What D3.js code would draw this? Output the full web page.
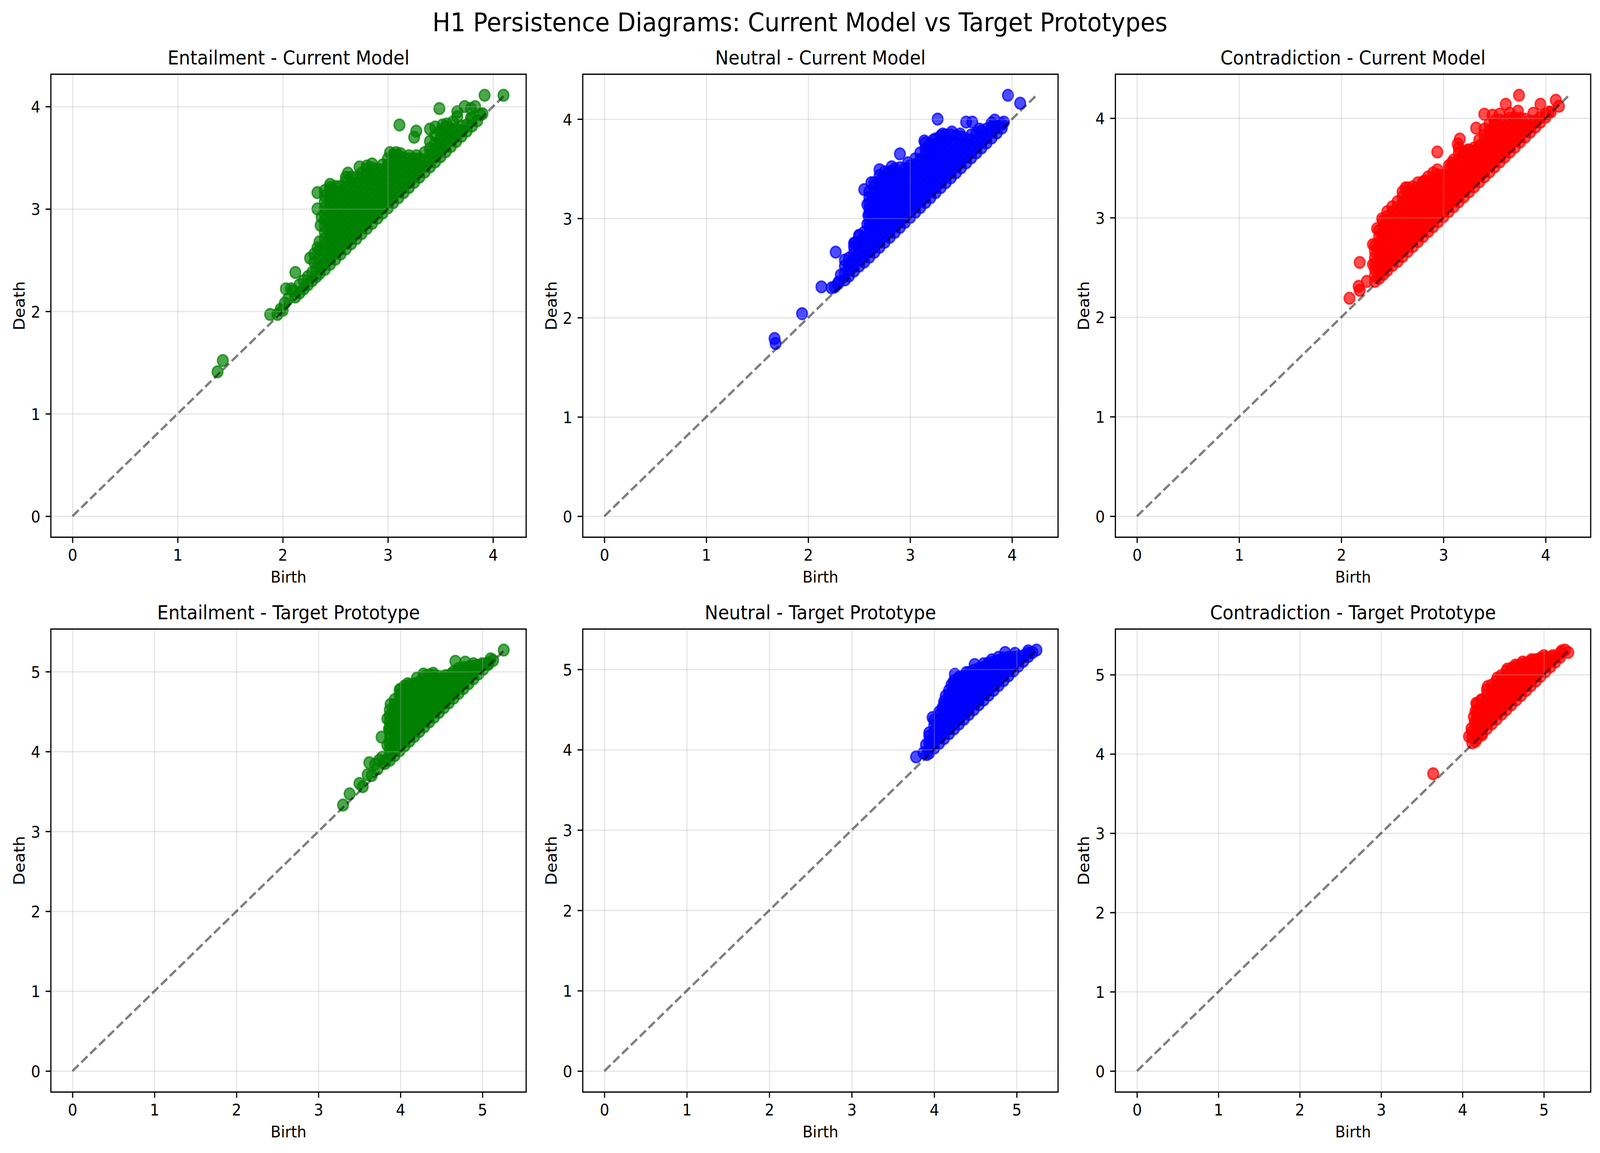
<!DOCTYPE html>
<html><head><meta charset="utf-8">
<script src="https://cdn.jsdelivr.net/npm/d3@7"></script>
<style>html,body{margin:0;padding:0;background:#fff;overflow:hidden;width:100%;height:100%}svg{display:block}</style>
</head><body>
<script>
// ---------- DATA (birth, death) ----------
const currentTicks = [0, 1, 2, 3, 4];
const targetTicks = [0, 1, 2, 3, 4, 5];

// Entailment - Current Model: columns [birth, [deaths]] + extra points
const entCurrentCols = [
[2.40,[2.41,2.47,2.53,2.59,2.65,2.71,2.77,2.83,2.89,2.95,3.01,3.07,3.13,3.18]],
[2.45,[2.46,2.52,2.58,2.64,2.70,2.76,2.82,2.88,2.94,3.00,3.06,3.12,3.18,3.21]],
[2.50,[2.51,2.57,2.63,2.69,2.75,2.81,2.87,2.93,2.99,3.05,3.11,3.17,3.22]],
[2.55,[2.56,2.62,2.68,2.74,2.80,2.86,2.92,2.98,3.04,3.10,3.16,3.22]],
[2.60,[2.61,2.67,2.73,2.79,2.85,2.91,2.97,3.03,3.09,3.15,3.21,3.27,3.31]],
[2.65,[2.66,2.72,2.78,2.84,2.90,2.96,3.02,3.08,3.14,3.20,3.26,3.31]],
[2.70,[2.71,2.77,2.83,2.89,2.95,3.01,3.07,3.13,3.19,3.25,3.31]],
[2.75,[2.76,2.82,2.88,2.94,3.00,3.06,3.12,3.18,3.24,3.30,3.35]],
[2.80,[2.81,2.87,2.93,2.99,3.05,3.11,3.17,3.23,3.29,3.35,3.39]],
[2.85,[2.86,2.92,2.98,3.04,3.10,3.16,3.22,3.28,3.34,3.40]],
[2.90,[2.91,2.97,3.03,3.09,3.15,3.21,3.27,3.33,3.39]],
[2.95,[2.96,3.02,3.08,3.14,3.20,3.26,3.32,3.38,3.43]],
[3.00,[3.01,3.07,3.13,3.19,3.25,3.31,3.37,3.43,3.49]],
[3.05,[3.06,3.12,3.18,3.24,3.30,3.36,3.42,3.48,3.53]],
[3.10,[3.11,3.17,3.23,3.29,3.35,3.41,3.47,3.52]],
[3.15,[3.16,3.22,3.28,3.34,3.40,3.46,3.50]],
[3.20,[3.21,3.27,3.33,3.39,3.45,3.49]],
[3.25,[3.26,3.32,3.38,3.44,3.49]],
[3.30,[3.31,3.37,3.43,3.49]],
[3.35,[3.36,3.42,3.48,3.55]],
[3.40,[3.41,3.47,3.53,3.59,3.66]],
[3.45,[3.46,3.52,3.58,3.64,3.72]],
[3.50,[3.51,3.57,3.63,3.69,3.76]],
[3.55,[3.56,3.62,3.68,3.74,3.80]],
[3.60,[3.61,3.67,3.73,3.78]],
[3.65,[3.66,3.72,3.78]],
[3.70,[3.71,3.76,3.81]],
[3.75,[3.76,3.82]],
[3.80,[3.81,3.88]],
[3.85,[3.86]]
];
const entCurrentExtra = [[2.35,2.37],[2.35,2.44],[2.35,2.52],[2.35,2.60],[2.35,2.68],[2.33,2.62],[2.30,2.48],[2.30,2.56],[2.33,3.00],[2.36,2.84],[2.33,3.16],[2.37,2.92],[2.32,2.34],[2.32,2.42],[2.28,2.30],[2.28,2.38],[2.26,2.52],[2.24,2.26],[2.24,2.34],[2.20,2.22],[2.20,2.30],[2.16,2.18],[2.16,2.26],[2.12,2.14],[2.12,2.38],[2.10,2.20],[2.08,2.22],[2.05,2.12],[2.03,2.22],[2.02,2.08],[2.00,2.01],[1.98,2.02],[1.95,1.97],[1.88,1.97],[1.43,1.52],[1.38,1.41],[3.11,3.82],[3.27,3.76],[3.25,3.70],[3.49,3.98],[3.73,4.00],[3.79,3.98],[3.83,4.00],[3.92,4.11],[4.10,4.11],[3.90,3.93],[3.66,3.95],[3.66,3.90],[3.62,3.85],[3.56,3.83],[3.52,3.82],[3.45,3.80],[3.40,3.78],[3.02,3.55],[3.08,3.55],[3.12,3.54],[3.20,3.52],[3.27,3.52],[2.73,3.41],[2.85,3.44],[2.80,3.42],[2.62,3.35],[2.45,3.24],[3.88,3.92],[3.79,3.89]];

// Neutral - Current Model
const neuCurrentCols = [
[2.36,[2.38,2.45,2.52,2.58]],
[2.40,[2.42,2.48,2.54,2.60]],
[2.45,[2.47,2.53,2.59,2.65,2.71,2.75]],
[2.50,[2.52,2.58,2.64,2.70,2.76,2.82]],
[2.55,[2.56,2.62,2.68,2.74,2.80,2.86]],
[2.60,[2.61,2.67,2.73,2.79,2.85,2.91,2.97,3.03,3.09,3.15,3.21,3.27]],
[2.65,[2.66,2.72,2.78,2.84,2.90,2.96,3.02,3.08,3.14,3.20,3.26,3.32,3.36]],
[2.70,[2.71,2.77,2.83,2.89,2.95,3.01,3.07,3.13,3.19,3.25,3.31,3.37,3.43]],
[2.75,[2.76,2.82,2.88,2.94,3.00,3.06,3.12,3.18,3.24,3.30,3.36,3.42,3.47]],
[2.80,[2.81,2.87,2.93,2.99,3.05,3.11,3.17,3.23,3.29,3.35,3.41,3.47]],
[2.85,[2.86,2.92,2.98,3.04,3.10,3.16,3.22,3.28,3.34,3.40,3.46,3.50]],
[2.90,[2.91,2.97,3.03,3.09,3.15,3.21,3.27,3.33,3.39,3.45,3.51]],
[2.95,[2.96,3.02,3.08,3.14,3.20,3.26,3.32,3.38,3.44,3.50]],
[3.00,[3.01,3.07,3.13,3.19,3.25,3.31,3.37,3.43,3.49,3.53]],
[3.05,[3.06,3.12,3.18,3.24,3.30,3.36,3.42,3.48,3.54,3.60]],
[3.10,[3.11,3.17,3.23,3.29,3.35,3.41,3.47,3.53,3.59,3.66]],
[3.15,[3.16,3.22,3.28,3.34,3.40,3.46,3.52,3.58,3.64,3.70,3.76]],
[3.20,[3.21,3.27,3.33,3.39,3.45,3.51,3.57,3.63,3.69,3.75]],
[3.25,[3.26,3.32,3.38,3.44,3.50,3.56,3.62,3.68,3.74,3.80]],
[3.30,[3.31,3.37,3.43,3.49,3.55,3.61,3.67,3.73,3.79,3.83]],
[3.35,[3.36,3.42,3.48,3.54,3.60,3.66,3.72,3.78,3.84]],
[3.40,[3.41,3.47,3.53,3.59,3.65,3.71,3.77,3.84]],
[3.45,[3.46,3.52,3.58,3.64,3.70,3.76,3.83]],
[3.50,[3.51,3.57,3.63,3.69,3.75,3.82]],
[3.55,[3.56,3.62,3.68,3.74,3.80]],
[3.60,[3.61,3.67,3.73,3.79,3.84]],
[3.65,[3.66,3.72,3.78,3.86]],
[3.70,[3.71,3.77,3.83,3.88]],
[3.75,[3.76,3.82,3.90]],
[3.80,[3.81,3.87,3.92]],
[3.85,[3.86,3.92]],
[3.90,[3.91,3.95]]
];
const neuCurrentExtra = [[2.55,3.29],[2.58,3.14],[2.59,3.03],[2.58,2.94],[2.50,2.83],[2.46,2.75],[2.27,2.66],[2.32,2.43],[2.30,2.36],[2.29,2.34],[2.23,2.30],[2.13,2.31],[2.26,2.31],[1.94,2.04],[1.67,1.79],[1.68,1.74],[3.96,4.24],[4.08,4.16],[3.27,4.00],[3.55,3.97],[3.61,3.97],[3.83,3.99],[3.92,3.97],[3.80,3.96],[2.90,3.65],[2.70,3.49],[2.82,3.52],[2.98,3.56],[3.14,3.78],[3.23,3.79],[3.32,3.85],[3.41,3.87],[3.49,3.85],[3.68,3.90],[2.62,3.36]];

// Contradiction - Current Model
const conCurrentCols = [
[2.33,[2.36,2.42,2.48,2.54,2.60,2.66,2.72]],
[2.37,[2.39,2.45,2.51,2.57,2.63,2.69,2.75,2.81,2.87]],
[2.41,[2.43,2.49,2.55,2.61,2.67,2.73,2.79,2.85,2.91,2.97]],
[2.45,[2.47,2.53,2.59,2.65,2.71,2.77,2.83,2.89,2.95,3.01,3.06]],
[2.50,[2.52,2.58,2.64,2.70,2.76,2.82,2.88,2.94,3.00,3.06,3.11]],
[2.55,[2.56,2.62,2.68,2.74,2.80,2.86,2.92,2.98,3.04,3.10,3.16]],
[2.60,[2.61,2.67,2.73,2.79,2.85,2.91,2.97,3.03,3.09,3.15,3.21,3.26]],
[2.65,[2.66,2.72,2.78,2.84,2.90,2.96,3.02,3.08,3.14,3.20,3.26,3.30]],
[2.70,[2.71,2.77,2.83,2.89,2.95,3.01,3.07,3.13,3.19,3.25,3.31]],
[2.75,[2.76,2.82,2.88,2.94,3.00,3.06,3.12,3.18,3.24,3.30,3.35]],
[2.80,[2.81,2.87,2.93,2.99,3.05,3.11,3.17,3.23,3.29,3.36]],
[2.85,[2.86,2.92,2.98,3.04,3.10,3.16,3.22,3.28,3.34,3.41]],
[2.90,[2.91,2.97,3.03,3.09,3.15,3.21,3.27,3.33,3.39,3.45]],
[2.95,[2.96,3.02,3.08,3.14,3.20,3.26,3.32,3.38,3.43]],
[3.00,[3.01,3.07,3.13,3.19,3.25,3.31,3.37,3.42]],
[3.05,[3.06,3.12,3.18,3.24,3.30,3.36,3.42,3.48,3.52]],
[3.10,[3.11,3.17,3.23,3.29,3.35,3.41,3.47,3.53,3.58]],
[3.15,[3.16,3.22,3.28,3.34,3.40,3.46,3.52,3.58,3.65]],
[3.20,[3.21,3.27,3.33,3.39,3.45,3.51,3.57,3.63,3.66]],
[3.25,[3.26,3.32,3.38,3.44,3.50,3.56,3.62,3.68]],
[3.30,[3.31,3.37,3.43,3.49,3.55,3.61,3.67]],
[3.35,[3.36,3.42,3.48,3.54,3.60,3.66,3.72,3.78]],
[3.40,[3.41,3.47,3.53,3.59,3.65,3.71,3.77,3.83,3.89]],
[3.45,[3.46,3.52,3.58,3.64,3.70,3.76,3.82,3.88,3.94]],
[3.50,[3.51,3.57,3.63,3.69,3.75,3.81,3.87,3.93,3.97]],
[3.55,[3.56,3.62,3.68,3.74,3.80,3.86,3.92,3.98]],
[3.60,[3.61,3.67,3.73,3.79,3.85,3.91,3.97]],
[3.65,[3.66,3.72,3.78,3.84,3.90,3.96,4.00]],
[3.70,[3.71,3.77,3.83,3.89,3.95,4.00]],
[3.75,[3.76,3.82,3.88,3.94,4.00]],
[3.80,[3.81,3.87,3.93,3.99]],
[3.85,[3.86,3.92,3.97]],
[3.90,[3.91,3.97]],
[3.95,[3.96,4.01]],
[4.00,[4.01,4.04]],
[4.05,[4.06]]
];
const conCurrentExtra = [[3.74,4.23],[3.61,4.14],[3.95,4.14],[4.10,4.18],[4.13,4.12],[3.40,4.04],[3.48,4.03],[3.73,4.07],[3.65,4.05],[3.55,4.04],[3.32,3.90],[3.16,3.79],[3.14,3.74],[2.94,3.66],[3.15,3.70],[3.24,3.68],[3.30,3.70],[2.18,2.55],[2.17,2.31],[2.18,2.27],[2.25,2.36],[2.08,2.19],[2.31,2.53],[2.31,2.73],[2.35,2.89],[2.40,2.99],[2.63,3.30],[2.82,3.37],[2.94,3.48],[3.08,3.55],[3.88,4.05],[4.03,4.06]];

// Entailment - Target Prototype
const entTargetCols = [
[3.87,[3.89,3.96,4.03,4.10,4.17,4.24,4.31,4.38,4.45,4.52]],
[3.93,[3.95,4.02,4.09,4.16,4.23,4.30,4.37,4.44,4.51,4.58,4.65]],
[3.99,[4.01,4.08,4.15,4.22,4.29,4.36,4.43,4.50,4.57,4.64,4.71,4.77]],
[4.05,[4.07,4.14,4.21,4.28,4.35,4.42,4.49,4.56,4.63,4.70,4.77,4.82]],
[4.11,[4.13,4.20,4.27,4.34,4.41,4.48,4.55,4.62,4.69,4.76,4.83]],
[4.17,[4.19,4.26,4.33,4.40,4.47,4.54,4.61,4.68,4.75,4.82,4.85]],
[4.23,[4.25,4.32,4.39,4.46,4.53,4.60,4.67,4.74,4.81,4.87]],
[4.29,[4.31,4.38,4.45,4.52,4.59,4.66,4.73,4.80,4.87,4.94]],
[4.35,[4.37,4.44,4.51,4.58,4.65,4.72,4.79,4.86,4.93,4.96]],
[4.41,[4.43,4.50,4.57,4.64,4.71,4.78,4.85,4.92,4.95]],
[4.47,[4.49,4.56,4.63,4.70,4.77,4.84,4.91,4.94]],
[4.53,[4.55,4.62,4.69,4.76,4.83,4.90,4.93]],
[4.59,[4.61,4.68,4.75,4.82,4.89,4.93]],
[4.65,[4.67,4.74,4.81,4.88,4.95,5.00]],
[4.71,[4.73,4.80,4.87,4.94,5.01,5.04]],
[4.77,[4.79,4.86,4.93,5.00,5.05]],
[4.83,[4.85,4.92,4.99,5.06]],
[4.89,[4.91,4.98,5.05,5.07]],
[4.95,[4.97,5.04,5.08]],
[5.01,[5.03,5.09]],
[5.07,[5.09,5.11]]
];
const entTargetExtra = [[5.26,5.27],[4.67,5.13],[4.79,5.12],[4.89,5.10],[5.10,5.16],[5.00,5.10],[4.28,4.97],[4.40,4.98],[4.55,4.95],[4.09,4.85],[4.00,4.78],[3.88,4.59],[3.84,4.41],[3.86,4.28],[3.77,4.18],[3.84,4.08],[3.78,3.93],[3.62,3.86],[3.69,3.84],[3.60,3.71],[3.54,3.56],[3.50,3.60],[3.30,3.33],[3.38,3.47],[3.74,3.89],[3.82,3.89],[3.81,3.85],[3.65,3.70],[3.72,3.78],[5.13,5.14],[4.20,4.92],[4.62,4.97]];

// Neutral - Target Prototype
const neuTargetCols = [
[3.94,[3.96,4.03,4.10,4.17,4.21]],
[4.00,[4.02,4.09,4.16,4.23,4.30,4.37]],
[4.06,[4.08,4.15,4.22,4.29,4.36,4.43,4.47]],
[4.12,[4.14,4.21,4.28,4.35,4.42,4.49,4.56,4.60]],
[4.18,[4.20,4.27,4.34,4.41,4.48,4.55,4.62,4.69,4.74]],
[4.24,[4.26,4.33,4.40,4.47,4.54,4.61,4.68,4.75,4.82,4.86]],
[4.30,[4.32,4.39,4.46,4.53,4.60,4.67,4.74,4.81,4.88,4.90]],
[4.36,[4.38,4.45,4.52,4.59,4.66,4.73,4.80,4.87,4.92]],
[4.42,[4.44,4.51,4.58,4.65,4.72,4.79,4.86,4.93,4.96]],
[4.48,[4.50,4.57,4.64,4.71,4.78,4.85,4.92,4.99]],
[4.54,[4.56,4.63,4.70,4.77,4.84,4.91,4.98,5.01]],
[4.60,[4.62,4.69,4.76,4.83,4.90,4.97,5.03]],
[4.66,[4.68,4.75,4.82,4.89,4.96,5.03,5.05]],
[4.72,[4.74,4.81,4.88,4.95,5.02,5.09]],
[4.78,[4.80,4.87,4.94,5.01,5.08,5.11]],
[4.84,[4.86,4.93,5.00,5.07,5.14]],
[4.90,[4.92,4.99,5.06,5.13,5.15]],
[4.96,[4.98,5.05,5.12,5.15]],
[5.02,[5.04,5.11,5.16]],
[5.08,[5.10,5.17]],
[5.14,[5.16,5.20]]
];
const neuTargetExtra = [[3.78,3.91],[3.91,3.94],[3.87,3.96],[3.90,4.06],[5.24,5.24],[4.25,4.94],[4.39,4.96],[4.49,5.06],[4.70,5.12],[4.78,5.15],[4.86,5.21],[4.98,5.20],[5.14,5.23],[4.10,4.52],[4.14,4.67],[3.98,4.40],[4.21,4.81],[5.19,5.21],[4.60,5.07],[4.66,5.08]];

// Contradiction - Target Prototype
const conTargetCols = [
[4.12,[4.14,4.21,4.28]],
[4.18,[4.20,4.27,4.34,4.41,4.48,4.55,4.62]],
[4.24,[4.26,4.33,4.40,4.47,4.54,4.61,4.68]],
[4.30,[4.32,4.39,4.46,4.53,4.60,4.67,4.74,4.81]],
[4.36,[4.38,4.45,4.52,4.59,4.66,4.73,4.80,4.87]],
[4.42,[4.44,4.51,4.58,4.65,4.72,4.79,4.86,4.93]],
[4.48,[4.50,4.57,4.64,4.71,4.78,4.85,4.92,4.99]],
[4.54,[4.56,4.63,4.70,4.77,4.84,4.91,4.98,5.04]],
[4.60,[4.62,4.69,4.76,4.83,4.90,4.97,5.04,5.08]],
[4.66,[4.68,4.75,4.82,4.89,4.96,5.03,5.10]],
[4.72,[4.74,4.81,4.88,4.95,5.02,5.09,5.13]],
[4.78,[4.80,4.87,4.94,5.01,5.08,5.15]],
[4.84,[4.86,4.93,5.00,5.07,5.14,5.17]],
[4.90,[4.92,4.99,5.06,5.13,5.19]],
[4.96,[4.98,5.05,5.12,5.19,5.21]],
[5.02,[5.04,5.11,5.18,5.22]],
[5.08,[5.10,5.17,5.22]],
[5.14,[5.16,5.22]],
[5.20,[5.22,5.27]]
];
const conTargetExtra = [[3.64,3.75],[4.08,4.22],[4.16,4.16],[4.24,4.24],[4.11,4.32],[4.16,4.54],[4.17,4.64],[4.14,4.47],[4.15,4.40],[5.26,5.31],[5.30,5.28],[5.22,5.30],[5.00,5.24],[5.11,5.24],[4.23,4.68],[4.31,4.85],[4.43,4.96],[4.55,5.07],[4.65,5.12],[4.74,5.16],[4.85,5.19]];

const suptitle = "H1 Persistence Diagrams: Current Model vs Target Prototypes";
const panelTitles = ["Entailment - Current Model","Neutral - Current Model","Contradiction - Current Model",
  "Entailment - Target Prototype","Neutral - Target Prototype","Contradiction - Target Prototype"];
const panelColors = ["green","blue","red","green","blue","red"];

// ---------- LAYOUT ----------
const W = 4467, H = 2951;
const FONT = "DejaVu Sans";
const PT = 300/72;
const lefts = [142, 1627, 3114], tops = [190, 1610];
const AW = 1327, AH = 1185;

const panels = [
  {cols: entCurrentCols, extra: entCurrentExtra, ticks: currentTicks},
  {cols: neuCurrentCols, extra: neuCurrentExtra, ticks: currentTicks},
  {cols: conCurrentCols, extra: conCurrentExtra, ticks: currentTicks},
  {cols: entTargetCols, extra: entTargetExtra, ticks: targetTicks},
  {cols: neuTargetCols, extra: neuTargetExtra, ticks: targetTicks},
  {cols: conTargetCols, extra: conTargetExtra, ticks: targetTicks}
];

const svg = d3.select("body").append("svg")
  .attr("viewBox", `0 0 ${W} ${H}`)
  .attr("preserveAspectRatio", "none")
  .style("width", "100vw").style("height", "100vh")
  .attr("font-family", FONT);
svg.append("rect").attr("width", W).attr("height", H).attr("fill", "#fff");

svg.append("text").attr("x", W/2).attr("y", 80)
  .attr("text-anchor", "middle").attr("font-size", 16*PT).text(suptitle);

const defs = svg.append("defs");

panels.forEach((p, i) => {
  const col = i % 3, row = Math.floor(i / 3);
  const x0 = lefts[col], y0 = tops[row];
  const color = panelColors[i];
  const pts = p.cols.flatMap(([b, ds]) => ds.map(d => [b, d])).concat(p.extra);
  const maxV = d3.max(pts, q => Math.max(q[0], q[1]));
  const dom = [-0.05*maxV, 1.05*maxV];
  const x = d3.scaleLinear().domain(dom).range([x0, x0 + AW]);
  const y = d3.scaleLinear().domain(dom).range([y0 + AH, y0]);

  const cid = "clip" + i;
  defs.append("clipPath").attr("id", cid).append("rect")
    .attr("x", x0).attr("y", y0).attr("width", AW).attr("height", AH);

  const g = svg.append("g");
  const plot = g.append("g").attr("clip-path", `url(#${cid})`);

  // scatter
  plot.append("g").selectAll("circle").data(pts).join("circle")
    .attr("cx", d => x(d[0])).attr("cy", d => y(d[1]))
    .attr("r", Math.sqrt(50)*PT/2)
    .attr("fill", color).attr("fill-opacity", 0.7)
    .attr("stroke", color).attr("stroke-opacity", 0.7)
    .attr("stroke-width", 1*PT);

  // grid
  const gxGrid = plot.append("g").attr("transform", `translate(0,${y0 + AH})`)
    .call(d3.axisBottom(x).tickValues(p.ticks).tickSize(-AH).tickFormat(""));
  const gyGrid = plot.append("g").attr("transform", `translate(${x0},0)`)
    .call(d3.axisLeft(y).tickValues(p.ticks).tickSize(-AW).tickFormat(""));
  [gxGrid, gyGrid].forEach(gg => {
    gg.select(".domain").remove();
    gg.selectAll("line").attr("stroke", "#b0b0b0").attr("stroke-opacity", 0.3).attr("stroke-width", 0.8*PT);
  });

  // diagonal
  plot.append("path").datum([[0, 0], [maxV, maxV]])
    .attr("d", d3.line().x(d => x(d[0])).y(d => y(d[1])))
    .attr("fill", "none").attr("stroke", "#000").attr("stroke-opacity", 0.5)
    .attr("stroke-width", 1.5*PT)
    .attr("stroke-dasharray", `${3.7*1.5*PT},${1.6*1.5*PT}`);

  // axes
  const tl = 3.5*PT;
  const ax = g.append("g").attr("transform", `translate(0,${y0 + AH})`)
    .call(d3.axisBottom(x).tickValues(p.ticks).tickSize(tl).tickPadding(tl).tickSizeOuter(0).tickFormat(d3.format("d")));
  const ay = g.append("g").attr("transform", `translate(${x0},0)`)
    .call(d3.axisLeft(y).tickValues(p.ticks).tickSize(tl).tickPadding(tl).tickSizeOuter(0).tickFormat(d3.format("d")));
  [ax, ay].forEach(a => {
    a.attr("font-size", 10*PT).attr("font-family", FONT);
    a.select(".domain").remove();
    a.selectAll(".tick line").attr("stroke", "#000").attr("stroke-width", 0.8*PT);
    a.selectAll(".tick text").attr("fill", "#000");
  });
  ax.selectAll(".tick text").attr("dy", "0.75em");
  ay.selectAll(".tick text").attr("dy", "0.364em");

  // spines
  g.append("rect").attr("x", x0).attr("y", y0).attr("width", AW).attr("height", AH)
    .attr("fill", "none").attr("stroke", "#000").attr("stroke-width", 0.8*PT);

  // labels
  g.append("text").attr("x", x0 + AW/2).attr("y", y0 + AH + 116.5)
    .attr("text-anchor", "middle").attr("font-size", 10*PT).text("Birth");
  g.append("text").attr("transform", `translate(${x0 - 73},${y0 + AH/2}) rotate(-90)`)
    .attr("text-anchor", "middle").attr("font-size", 10*PT).text("Death");
  g.append("text").attr("x", x0 + AW/2).attr("y", y0 - 25)
    .attr("text-anchor", "middle").attr("font-size", 12*PT).text(panelTitles[i]);
});
</script>
</body></html>
